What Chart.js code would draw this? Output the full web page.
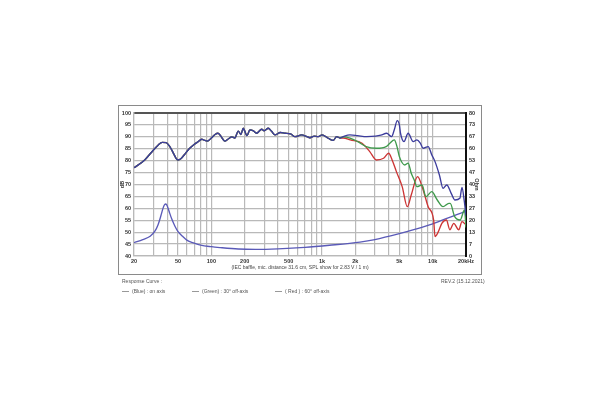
<!DOCTYPE html>
<html>
<head>
<meta charset="utf-8">
<script src="https://cdn.jsdelivr.net/npm/chart.js@4"></script>
<style>
  html, body { margin: 0; padding: 0; background: #fff; }
  #wrap { position: relative; width: 600px; height: 400px; font-family: "Liberation Sans", Arial, sans-serif; }
  #frame { position: absolute; left: 118px; top: 105px; width: 362px; height: 168px; border: 1px solid #8a8a8a; box-sizing: content-box; pointer-events: none; }
  canvas { position: absolute; left: 0; top: 0; }
  .t { position: absolute; font-size: 5px; color: #555; white-space: nowrap; line-height: 6px; }
  .ln { display: inline-block; width: 7px; height: 0; border-top: 1px solid #999; vertical-align: middle; margin-right: 3px; }
</style>
</head>
<body>
<div id="wrap">
  <canvas id="c" width="600" height="400"></canvas>
  <div id="frame"></div>
  <div class="t" style="left:122px; top:278px;">Response Curve :</div>
  <div class="t" style="left:441px; top:278px;">REV.2 (15.12.2021)</div>
  <div class="t" style="left:122px; top:288px;"><span class="ln"></span>(Blue) : on axis</div>
  <div class="t" style="left:192px; top:288px;"><span class="ln"></span>(Green) : 30° off-axis</div>
  <div class="t" style="left:275px; top:288px;"><span class="ln"></span>( Red ) : 60° off-axis</div>
</div>
<script>
// ---- data ----
const sharedFreq = [20, 25, 30, 33, 36, 39, 42, 45, 48, 50, 53, 57, 63, 69, 75, 82, 86, 92, 100, 108, 115, 123, 132, 143, 153, 163, 175, 185, 194, 200, 210, 223, 240, 256, 285, 300, 327, 350, 376, 420, 462, 520, 569, 655, 720, 778, 850, 925, 1000, 1138, 1262, 1355, 1450];
const sharedDb   = [77.0, 80.3, 84.5, 86.5, 87.7, 87.6, 86.0, 83.5, 81.0, 80.3, 80.8, 82.5, 85.0, 86.6, 87.8, 89.0, 88.6, 88.2, 89.5, 91.0, 91.5, 90.0, 88.2, 89.2, 90.0, 89.5, 92.4, 91.0, 93.6, 92.5, 90.5, 92.9, 92.5, 91.5, 93.2, 92.5, 93.6, 92.3, 90.8, 91.8, 91.5, 91.2, 90.1, 90.8, 90.2, 89.6, 90.3, 90.1, 90.8, 89.4, 88.5, 90.1, 89.5];

const onAxisFreq = [1557, 1787, 2100, 2529, 3045, 3400, 3835, 4257, 4500, 4785, 5000, 5120, 5500, 6000, 6670, 7200, 7700, 8200, 9100, 9800, 10500, 11500, 12400, 13400, 14700, 15900, 17600, 18400, 19300, 20000];
const onAxisDb   = [90.1, 90.8, 90.5, 90.1, 90.3, 90.7, 91.5, 90.1, 93.0, 96.8, 95.0, 91.5, 88.0, 91.5, 88.0, 88.7, 87.5, 85.2, 85.9, 82.5, 79.6, 74.0, 68.4, 69.8, 66.3, 63.5, 64.2, 68.8, 63.0, 57.0];

const off30Freq = [1557, 1787, 2100, 2500, 3100, 3800, 4100, 4500, 4750, 5000, 5600, 6000, 6400, 6800, 7200, 8000, 8700, 9800, 11000, 12400, 14000, 14400, 15800, 17700, 19400, 20000];
const off30Db   = [90.0, 89.5, 88.0, 85.9, 85.2, 85.9, 87.3, 88.7, 86.0, 81.7, 78.2, 79.0, 74.7, 72.0, 69.1, 69.8, 64.9, 67.0, 63.5, 60.7, 62.1, 62.1, 56.5, 55.1, 59.3, 52.0];

const off60Freq = [1557, 1800, 2300, 2700, 3100, 3600, 4000, 4300, 4700, 5300, 5900, 6400, 7300, 8200, 9100, 10200, 10500, 11200, 12100, 13300, 14300, 15500, 17200, 18400, 20000];
const off60Db   = [89.5, 88.7, 87.3, 83.8, 80.3, 81.0, 83.1, 80.3, 75.4, 69.1, 60.7, 65.6, 73.3, 67.7, 60.7, 55.1, 48.1, 50.0, 53.7, 55.1, 51.0, 53.7, 51.0, 54.4, 53.0];

const impFreq = [20, 24, 28, 31, 33, 35, 36.5, 37.5, 38.5, 39.5, 40.5, 42, 44, 47, 50, 55, 60, 70, 80, 100, 120, 175, 250, 400, 700, 1170, 2200, 3000, 5000, 7000, 10000, 14000, 20000];
const impOhm  = [7.5, 9.2, 11.0, 14.0, 17.5, 22.5, 26.5, 28.4, 29.1, 28.6, 27.0, 24.0, 20.5, 16.5, 13.6, 11.0, 8.9, 7.2, 6.1, 5.2, 4.7, 3.9, 3.7, 4.0, 4.8, 6.0, 7.8, 9.2, 12.5, 15.0, 18.0, 21.5, 25.0];

const xTickValues = [20, 30, 40, 50, 60, 70, 80, 90, 100, 200, 300, 400, 500, 600, 700, 800, 900, 1000, 2000, 3000, 4000, 5000, 6000, 7000, 8000, 9000, 10000, 20000];
const xTickLabels = {20: '20', 50: '50', 100: '100', 200: '200', 500: '500', 1000: '1k', 2000: '2k', 5000: '5k', 10000: '10k', 20000: '20kHz'};
const ohmTickCount = 12;
const ohmMax = 80;

const caption = '(IEC baffle, mic. distance 31.6 cm, SPL show for 2.83 V / 1 m)';

// ---- build ----
const pts = (fx, fy) => fx.map((f, i) => ({x: f, y: fy[i]}));
const onAxis = pts(sharedFreq.concat(onAxisFreq), sharedDb.concat(onAxisDb));
const off30 = pts(sharedFreq.concat(off30Freq), sharedDb.concat(off30Db));
const off60 = pts(sharedFreq.concat(off60Freq), sharedDb.concat(off60Db));
const imp = pts(impFreq, impOhm);

const tickFont = {family: '"Liberation Sans", Arial, sans-serif', size: 5.5, weight: 'bold'};
const lineDs = (label, data, color, axis) => ({
  label, data, borderColor: color, backgroundColor: color, borderWidth: 1.35,
  pointRadius: 0, cubicInterpolationMode: 'monotone', yAxisID: axis, fill: false
});

new Chart(document.getElementById('c'), {
  type: 'line',
  data: {
    datasets: [
      lineDs('on axis', onAxis, '#3c3c9c', 'y'),
      lineDs('30° off-axis', off30, '#3f9a4c', 'y'),
      lineDs('60° off-axis', off60, '#cc3535', 'y'),
      lineDs('Impedance', imp, '#5a5ab8', 'y1')
    ]
  },
  options: {
    responsive: false,
    animation: false,
    layout: {padding: {left: 118, right: 119, top: 113, bottom: 126}},
    plugins: {legend: {display: false}, tooltip: {enabled: false}},
    scales: {
      x: {
        type: 'logarithmic', min: 20, max: 20000,
        afterBuildTicks: s => { s.ticks = xTickValues.map(v => ({value: v})); },
        afterFit: s => { s.height = 18; },
        ticks: {autoSkip: false, maxRotation: 0, padding: 2, color: '#333', font: tickFont,
          callback: v => xTickLabels[v] || ''},
        grid: {color: '#b9b9b9', lineWidth: 1.2, drawTicks: false},
        border: {display: true, color: '#b9b9b9', width: 1.2},
        title: {display: true, text: caption, color: '#444',
          font: {family: '"Liberation Sans", Arial, sans-serif', size: 5}, padding: {top: 0, bottom: 3}}
      },
      y: {
        position: 'left', min: 40, max: 100,
        afterFit: s => { s.width = 16; },
        ticks: {stepSize: 5, padding: 3, color: '#333', font: tickFont},
        grid: {drawTicks: false,
          color: c => c.tick && c.tick.value === 100 ? '#555' : '#b9b9b9',
          lineWidth: c => c.tick && c.tick.value === 100 ? 2 : 1.2},
        border: {display: true, color: '#b9b9b9', width: 1.2},
        title: {display: true, text: 'dB', color: '#333',
          font: {family: '"Liberation Sans", Arial, sans-serif', size: 5.5, weight: 'bold'}, padding: {top: 1, bottom: 0}}
      },
      y1: {
        position: 'right', min: 0, max: ohmMax,
        afterBuildTicks: s => { s.ticks = Array.from({length: ohmTickCount + 1}, (_, i) => ({value: i * ohmMax / ohmTickCount})); },
        afterFit: s => { s.width = 15; },
        ticks: {padding: 3, color: '#333', font: tickFont, callback: v => String(Math.round(v))},
        grid: {drawOnChartArea: false, drawTicks: false},
        border: {display: true, color: '#111', width: 2},
        title: {display: true, text: 'Ohm', color: '#333',
          font: {family: '"Liberation Sans", Arial, sans-serif', size: 5.5, weight: 'bold'}, padding: {top: 1, bottom: 0}}
      }
    }
  }
});
</script>
</body>
</html>
